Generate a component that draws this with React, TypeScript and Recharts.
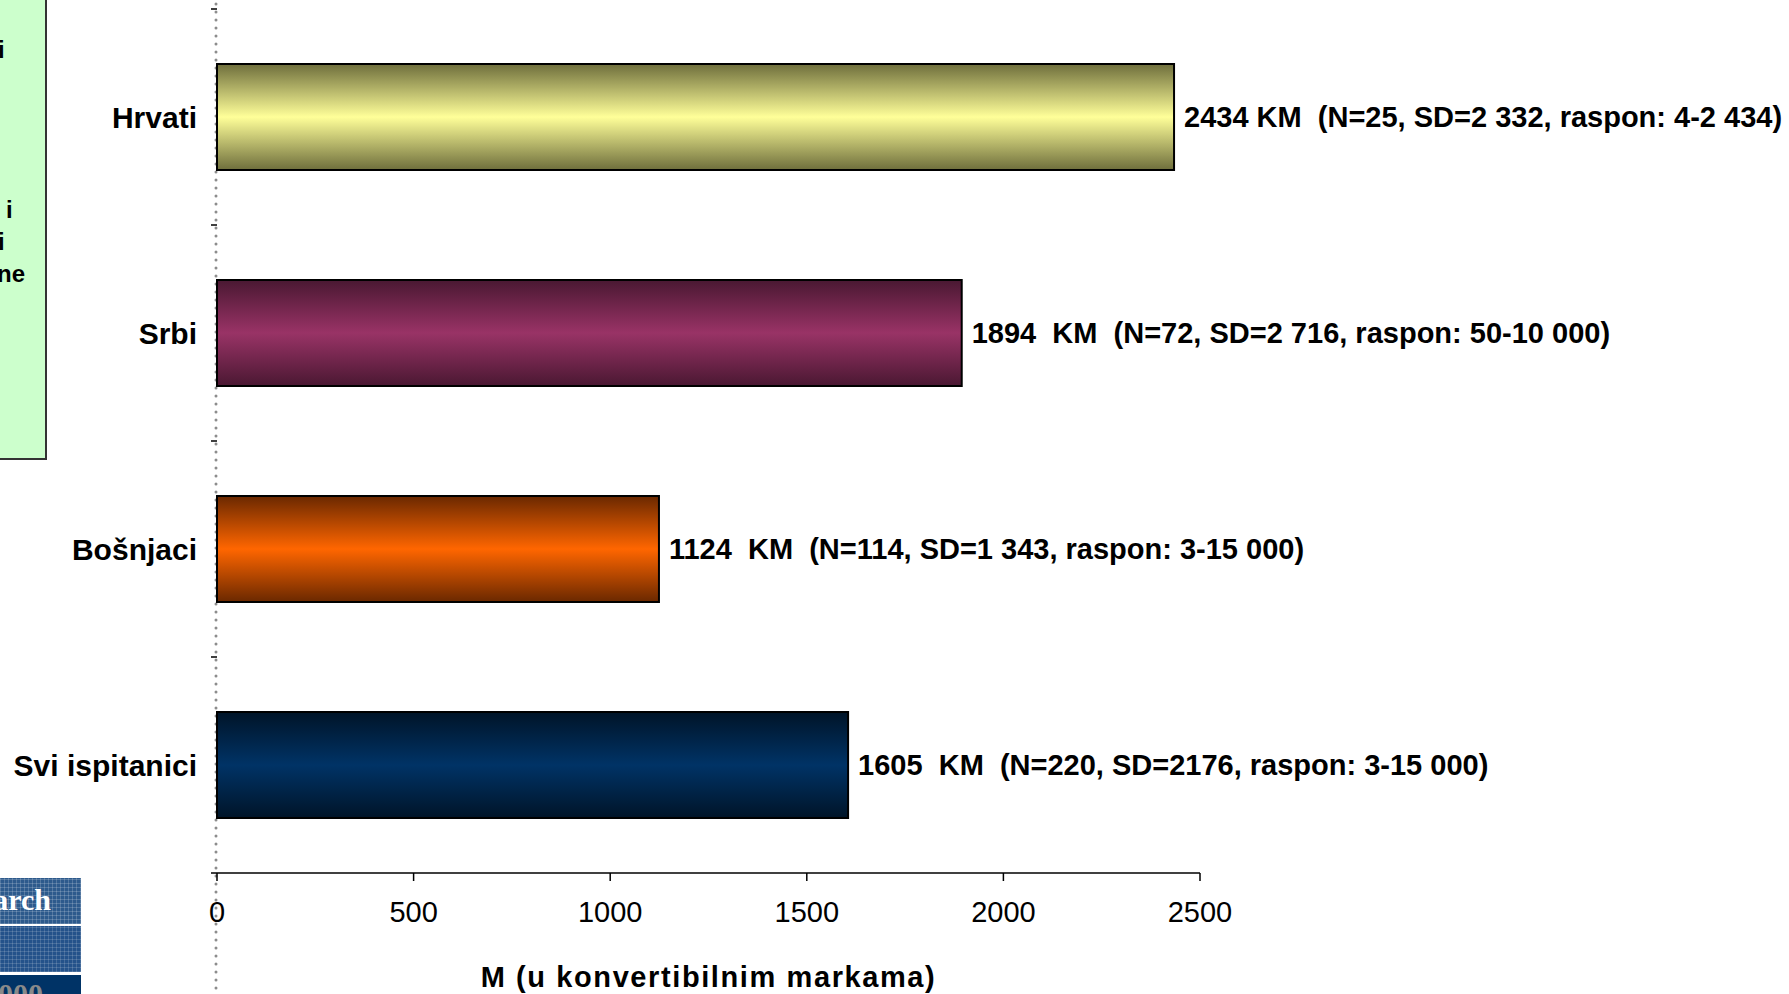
import React from 'react';
import { BarChart, Bar, XAxis, YAxis, Cell, LabelList } from 'recharts';

const categories = ['Hrvati', 'Srbi', 'Bošnjaci', 'Svi ispitanici'];
const means = [2434, 1894, 1124, 1605];
const kmSpacers = [' ', '  ', '  ', '  '];
const notes = [
  '(N=25, SD=2 332, raspon: 4-2 434)',
  '(N=72, SD=2 716, raspon: 50-10 000)',
  '(N=114, SD=1 343, raspon: 3-15 000)',
  '(N=220, SD=2176, raspon: 3-15 000)',
];
const xTicks = [0, 500, 1000, 1500, 2000, 2500];
const edgeColors = ['#6e6e3c', '#4a1832', '#6a2800', '#001428'];
const centerColors = ['#ffff99', '#993366', '#ff6600', '#003366'];
const axisTitle = 'M (u konvertibilnim markama)';

const data = categories.map((c, i) => ({
  name: c,
  value: means[i],
  label: `${means[i]}${kmSpacers[i]}KM  ${notes[i]}`,
}));

const FONT = 'Liberation Sans, Arial, sans-serif';

const CategoryTick = (props: any) => {
  const { x, y, payload, index, visibleTicksCount } = props;
  const half = payload && payload.offset ? payload.offset : 108;
  const axisX = x + 20;
  return (
    <g>
      <line x1={axisX - 6} x2={axisX} y1={y - half} y2={y - half} stroke="#000" strokeWidth={1.5} />
      {index === (visibleTicksCount ?? categories.length) - 1 && (
        <line x1={axisX - 6} x2={axisX} y1={y + half} y2={y + half} stroke="#000" strokeWidth={1.5} />
      )}
      <text
        x={x}
        y={y}
        textAnchor="end"
        dominantBaseline="central"
        fontFamily={FONT}
        fontWeight="bold"
        fontSize={30}
        fill="#000"
      >
        {payload.value}
      </text>
    </g>
  );
};

const ValueLabel = (props: any) => {
  const { x, y, width, height, value } = props;
  return (
    <text
      x={x + width + 10}
      y={y + height / 2}
      dominantBaseline="central"
      fontFamily={FONT}
      fontWeight="bold"
      fontSize={29}
      fill="#000"
      style={{ whiteSpace: 'pre' }}
    >
      {value}
    </text>
  );
};

const AxisTitle = (props: any) => {
  const vb = props.viewBox || {};
  return (
    <text
      x={vb.x + vb.width / 2}
      y={vb.y + vb.height - 7}
      textAnchor="middle"
      fontFamily={FONT}
      fontWeight="bold"
      fontSize={29}
      letterSpacing={1.6}
      fill="#000"
    >
      {axisTitle}
    </text>
  );
};

export default function App() {
  return (
    <div style={{ position: 'absolute', left: 0, top: 0, width: 1789, height: 994, background: '#fff', overflow: 'hidden' }}>
      {/* slide decorations */}
      <div
        style={{
          position: 'absolute', left: 0, top: 0, width: 45, height: 458,
          background: '#ccffcc', borderRight: '2px solid #333', borderBottom: '2px solid #333',
          fontFamily: FONT, fontWeight: 'bold', fontSize: 24, overflow: 'hidden',
        }}
      >
        <div style={{ position: 'absolute', left: -2, top: 36 }}>i</div>
        <div style={{ position: 'absolute', left: 6, top: 196 }}>i</div>
        <div style={{ position: 'absolute', left: -2, top: 228 }}>i</div>
        <div style={{ position: 'absolute', left: -3, top: 260 }}>ne</div>
      </div>
      <div style={{ position: 'absolute', left: 0, top: 878, width: 81, height: 116, overflow: 'hidden' }}>
        <div style={{ position: 'absolute', left: 0, top: 0, width: 81, height: 46, background: '#2d5a8c',
          backgroundImage: 'repeating-linear-gradient(90deg, rgba(255,255,255,0.18) 0 1px, transparent 1px 4px), repeating-linear-gradient(0deg, rgba(255,255,255,0.18) 0 1px, transparent 1px 4px)' }}>
          <div style={{ position: 'absolute', right: 30, top: 4, color: '#fff', fontFamily: 'Liberation Serif, serif', fontWeight: 'bold', fontSize: 30, lineHeight: '36px', whiteSpace: 'nowrap' }}>arch</div>
        </div>
        <div style={{ position: 'absolute', left: 0, top: 48, width: 81, height: 46, background: '#24528a',
          backgroundImage: 'repeating-linear-gradient(90deg, rgba(255,255,255,0.15) 0 1px, transparent 1px 4px), repeating-linear-gradient(0deg, rgba(255,255,255,0.15) 0 1px, transparent 1px 4px)' }} />
        <div style={{ position: 'absolute', left: 0, top: 97, width: 81, height: 19, background: '#003366', overflow: 'hidden' }}>
          <div style={{ position: 'absolute', left: -2, top: 4, color: '#8a8a8a', fontFamily: 'Liberation Serif, serif', fontWeight: 'bold', fontSize: 30, lineHeight: '30px' }}>000</div>
        </div>
      </div>
      <svg width={1789} height={994} style={{ position: 'absolute', left: 0, top: 0 }}>
        <line x1={216} x2={216} y1={4} y2={994} stroke="#8c8c8c" strokeWidth={3} strokeDasharray="0 8" strokeLinecap="round" />
      </svg>
      <div style={{ position: 'absolute', left: 0, top: 0 }}>
        <BarChart
          width={1789}
          height={994}
          data={data}
          layout="vertical"
          margin={{ top: 9, right: 589, bottom: 0, left: 0 }}
          barSize={106}
        >
          <defs>
            {categories.map((c, i) => (
              <linearGradient key={c} id={`grad${i}`} x1="0" y1="0" x2="0" y2="1">
                <stop offset="0%" stopColor={edgeColors[i]} />
                <stop offset="50%" stopColor={centerColors[i]} />
                <stop offset="100%" stopColor={edgeColors[i]} />
              </linearGradient>
            ))}
          </defs>
          <XAxis
            type="number"
            domain={[0, 2500]}
            ticks={xTicks}
            height={121}
            tickSize={8}
            tickMargin={20}
            axisLine={{ stroke: '#000', strokeWidth: 1.5 }}
            tickLine={{ stroke: '#000', strokeWidth: 1.5 }}
            tick={{ fill: '#000', fontSize: 29, fontFamily: FONT }}
            interval={0}
            label={<AxisTitle />}
          />
          <YAxis
            type="category"
            dataKey="name"
            width={217}
            axisLine={false}
            tickLine={false}
            tickSize={0}
            tickMargin={20}
            tick={<CategoryTick />}
            interval={0}
          />
          <Bar dataKey="value" isAnimationActive={false} stroke="#000" strokeWidth={2}>
            {data.map((d, i) => (
              <Cell key={d.name} fill={`url(#grad${i})`} />
            ))}
            <LabelList dataKey="label" content={<ValueLabel />} />
          </Bar>
        </BarChart>
      </div>
    </div>
  );
}
